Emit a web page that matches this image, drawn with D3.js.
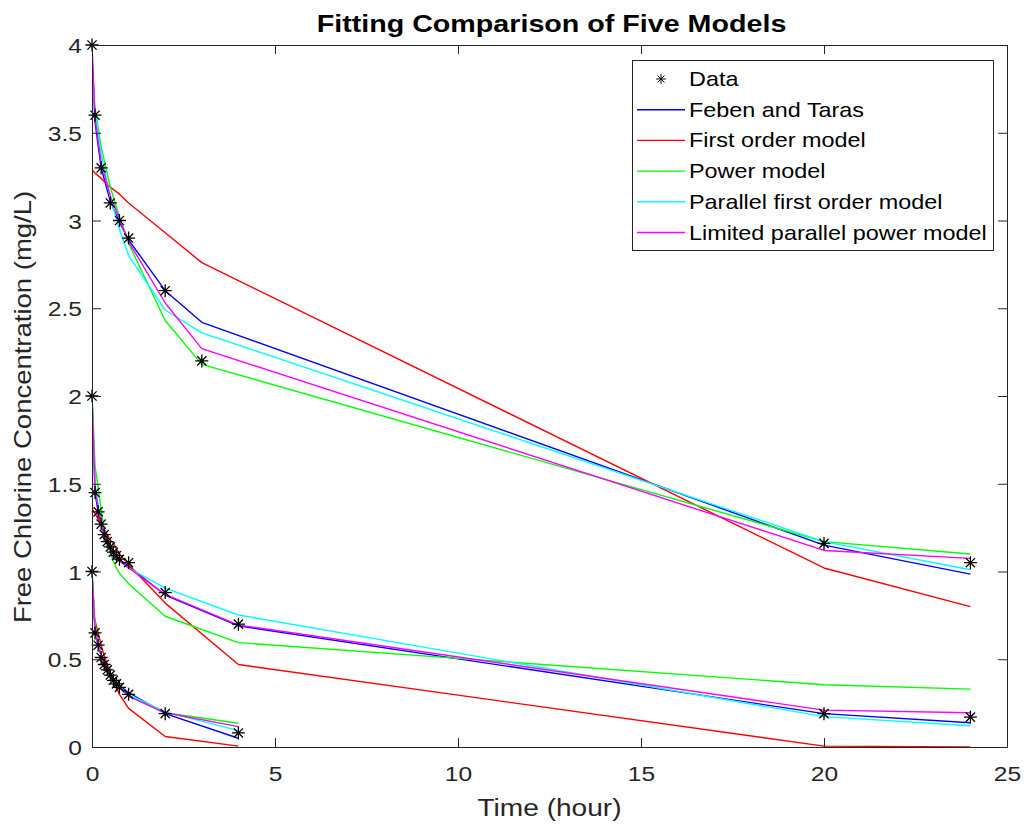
<!DOCTYPE html>
<html>
<head>
<meta charset="utf-8">
<script src="https://cdn.jsdelivr.net/npm/d3@7"></script>
<style>
  html, body { margin: 0; padding: 0; background: #fff; }
  svg { display: block; }
  text { font-family: Arial, "Liberation Sans", Helvetica, sans-serif; }
</style>
</head>
<body>
<svg id="chart" width="1024" height="826"></svg>
<script>
// ---- sampling times (hour) for each initial dose ----
const times4 = [0, 0.083, 0.25, 0.5, 0.75, 1, 2, 3, 20, 24];
const times2 = [0, 0.083, 0.167, 0.25, 0.333, 0.417, 0.5, 0.583, 0.667, 0.75, 1, 2, 4, 20, 24];
const times1 = [0, 0.083, 0.167, 0.25, 0.333, 0.417, 0.5, 0.583, 0.667, 0.75, 1, 2, 4];

// ---- measured free chlorine (mg/L) ----
const obs4 = [4.0, 3.6, 3.3, 3.1, 3.0, 2.9, 2.6, 2.2, 1.16, 1.05];
const obs2 = [2.0, 1.45, 1.34, 1.27, 1.21, 1.17, 1.14, 1.11, 1.09, 1.07, 1.05, 0.88, 0.70, 0.19, 0.17];
const obs1 = [1.0, 0.65, 0.58, 0.51, 0.47, 0.44, 0.41, 0.38, 0.36, 0.34, 0.30, 0.19, 0.08];

// ---- Feben and Taras ----
const feben4 = [3.95, 3.56, 3.30, 3.11, 2.99, 2.89, 2.60, 2.42, 1.15, 0.985];
const feben2 = [2.0, 1.45, 1.34, 1.27, 1.21, 1.17, 1.14, 1.11, 1.09, 1.07, 1.03, 0.866, 0.69, 0.19, 0.138];
const feben1 = [1.0, 0.66, 0.58, 0.52, 0.47, 0.44, 0.41, 0.39, 0.37, 0.35, 0.31, 0.19, 0.05];

// ---- First order model ----
const first4 = [3.29, 3.27, 3.24, 3.19, 3.15, 3.10, 2.93, 2.76, 1.02, 0.80];
const first2 = [1.36, 1.33, 1.30, 1.27, 1.24, 1.21, 1.18, 1.16, 1.13, 1.10, 1.04, 0.82, 0.47, 0.005, 0.001];
const first1 = [0.80, 0.72, 0.65, 0.58, 0.52, 0.47, 0.42, 0.38, 0.34, 0.30, 0.22, 0.06, 0.005];

// ---- Power model ----
const power4 = [3.80, 3.64, 3.42, 3.19, 3.02, 2.87, 2.43, 2.18, 1.17, 1.10];
const power2 = [2.0, 1.60, 1.48, 1.35, 1.24, 1.17, 1.11, 1.06, 1.02, 0.99, 0.93, 0.745, 0.595, 0.355, 0.33];
const power1 = [1.0, 0.70, 0.60, 0.53, 0.48, 0.44, 0.41, 0.38, 0.36, 0.34, 0.29, 0.195, 0.135];

// ---- Parallel first order model ----
const parallel4 = [3.85, 3.62, 3.38, 3.13, 2.95, 2.80, 2.49, 2.36, 1.17, 1.01];
const parallel2 = [1.95, 1.50, 1.38, 1.30, 1.23, 1.18, 1.14, 1.11, 1.08, 1.06, 1.02, 0.905, 0.752, 0.173, 0.121];
const parallel1 = [0.95, 0.68, 0.59, 0.52, 0.47, 0.44, 0.41, 0.38, 0.36, 0.34, 0.30, 0.20, 0.093];

// ---- Limited parallel power model ----
const limited4 = [4.0, 3.58, 3.33, 3.14, 3.01, 2.88, 2.53, 2.27, 1.12, 1.075];
const limited2 = [2.0, 1.47, 1.36, 1.28, 1.22, 1.17, 1.13, 1.10, 1.08, 1.06, 1.02, 0.87, 0.695, 0.21, 0.195];
const limited1 = [1.0, 0.66, 0.58, 0.52, 0.47, 0.44, 0.41, 0.38, 0.36, 0.34, 0.29, 0.195, 0.116];

// ---- axis ticks and labels ----
const xTicks = [0, 5, 10, 15, 20, 25];
const yTicks = [0, 0.5, 1, 1.5, 2, 2.5, 3, 3.5, 4];
const titleText = "Fitting Comparison of Five Models";
const xLabelText = "Time (hour)";
const yLabelText = "Free Chlorine Concentration (mg/L)";
const legendLabels = ["Data", "Feben and Taras", "First order model", "Power model",
                      "Parallel first order model", "Limited parallel power model"];

// ---- model definitions ----
const models = [
  { name: legendLabels[1], color: "#0000ff", runs: [feben4, feben2, feben1] },
  { name: legendLabels[2], color: "#ff0000", runs: [first4, first2, first1] },
  { name: legendLabels[3], color: "#00ff00", runs: [power4, power2, power1] },
  { name: legendLabels[4], color: "#00ffff", runs: [parallel4, parallel2, parallel1] },
  { name: legendLabels[5], color: "#ff00ff", runs: [limited4, limited2, limited1] }
];
const runTimes = [times4, times2, times1];
const observed = [obs4, obs2, obs1];

// ---- layout ----
const plot = { left: 92, right: 1007, top: 45, bottom: 747 };
const axisColor = "#262626";
const stretch = 1.17;   // horizontal widening of the glyphs
const tickLen = 9;

const svg = d3.select("#chart");

const x = d3.scaleLinear().domain([0, 25]).range([plot.left, plot.right]);
const y = d3.scaleLinear().domain([0, 4]).range([plot.bottom, plot.top]);

// white plot background
svg.append("rect")
  .attr("x", plot.left).attr("y", plot.top)
  .attr("width", plot.right - plot.left).attr("height", plot.bottom - plot.top)
  .attr("fill", "#fff");

// clip for series
svg.append("clipPath").attr("id", "plotClip")
  .append("rect")
  .attr("x", plot.left).attr("y", plot.top - 2)
  .attr("width", plot.right - plot.left).attr("height", plot.bottom - plot.top + 4);

const line = d3.line().x(d => x(d[0])).y(d => y(d[1]));

const seriesG = svg.append("g").attr("clip-path", "url(#plotClip)");

models.forEach(m => {
  m.runs.forEach((vals, i) => {
    const pts = runTimes[i].map((t, k) => [t, vals[k]]);
    seriesG.append("path")
      .attr("d", line(pts))
      .attr("fill", "none")
      .attr("stroke", m.color)
      .attr("stroke-width", 1.4)
      .attr("stroke-linejoin", "round");
  });
});

// asterisk marker
const starR = 6.5, starD = 4.6;
const starPath = `M0,${-starR}L0,${starR}M${-starR},0L${starR},0` +
  `M${-starD},${-starD}L${starD},${starD}M${-starD},${starD}L${starD},${-starD}`;

const dataPts = [];
observed.forEach((vals, i) => runTimes[i].forEach((t, k) => dataPts.push([t, vals[k]])));

svg.append("g").selectAll("path").data(dataPts).join("path")
  .attr("d", starPath)
  .attr("transform", d => `translate(${x(d[0])},${y(d[1])})`)
  .attr("fill", "none")
  .attr("stroke", "#000")
  .attr("stroke-width", 1.3);

// ---- axes (ticks point inward, box on all sides) ----
function styleAxis(g) {
  g.select(".domain").attr("stroke", axisColor).attr("stroke-width", 1);
  g.selectAll(".tick line").attr("stroke", axisColor).attr("stroke-width", 1);
  g.selectAll(".tick text").attr("fill", axisColor);
}

const xAxis = svg.append("g")
  .attr("transform", `translate(0,${plot.bottom})`)
  .call(d3.axisBottom(x).tickValues(xTicks).tickSize(-tickLen).tickSizeOuter(0).tickPadding(19)
    .tickFormat(d3.format("d")))
  .call(styleAxis);
xAxis.selectAll(".tick text")
  .attr("font-size", 21)
  .attr("transform", `scale(${stretch},1)`);

svg.append("g")
  .attr("transform", `translate(0,${plot.top})`)
  .call(d3.axisTop(x).tickValues(xTicks).tickSize(-tickLen).tickSizeOuter(0).tickFormat(""))
  .call(styleAxis);

const yAxis = svg.append("g")
  .attr("transform", `translate(${plot.left},0)`)
  .call(d3.axisLeft(y).tickValues(yTicks).tickSize(-tickLen).tickSizeOuter(0).tickPadding(10)
    .tickFormat(d => d3.format("")(d)))
  .call(styleAxis);
yAxis.selectAll(".tick text")
  .attr("font-size", 21)
  .attr("dy", "0.36em")
  .each(function () {
    const t = d3.select(this);
    const xPos = +t.attr("x");
    t.attr("x", 0).attr("transform", `translate(${xPos},0) scale(${stretch},1)`);
  });

svg.append("g")
  .attr("transform", `translate(${plot.right},0)`)
  .call(d3.axisRight(y).tickValues(yTicks).tickSize(-tickLen).tickSizeOuter(0).tickFormat(""))
  .call(styleAxis);

// ---- titles ----
svg.append("text")
  .attr("transform", `translate(${(plot.left + plot.right) / 2 + 2},32) scale(${stretch},1)`)
  .attr("text-anchor", "middle")
  .attr("font-size", 24.5)
  .attr("font-weight", "bold")
  .attr("fill", "#000")
  .text(titleText);

svg.append("text")
  .attr("transform", `translate(${(plot.left + plot.right) / 2},816) scale(${stretch},1)`)
  .attr("text-anchor", "middle")
  .attr("font-size", 24)
  .attr("fill", axisColor)
  .text(xLabelText);

svg.append("text")
  .attr("transform", `translate(31,407) rotate(-90) scale(${stretch},1)`)
  .attr("text-anchor", "middle")
  .attr("font-size", 23.5)
  .attr("fill", axisColor)
  .text(yLabelText);

// ---- legend ----
const legend = { x: 632, y: 60, w: 361, h: 190, rowY0: 79, rowStep: 30.7 };
const lg = svg.append("g");
lg.append("rect")
  .attr("x", legend.x + 0.5).attr("y", legend.y + 0.5)
  .attr("width", legend.w).attr("height", legend.h)
  .attr("fill", "#fff").attr("stroke", axisColor).attr("stroke-width", 1);

legendLabels.forEach((lab, i) => {
  const ry = legend.rowY0 + i * legend.rowStep;
  if (i === 0) {
    lg.append("path").attr("d", starPath)
      .attr("transform", `translate(661,${ry}) scale(0.75)`)
      .attr("fill", "none").attr("stroke", "#000").attr("stroke-width", 1.3);
  } else {
    lg.append("line")
      .attr("x1", 637).attr("x2", 685)
      .attr("y1", ry).attr("y2", ry)
      .attr("stroke", models[i - 1].color).attr("stroke-width", 1.4);
  }
  lg.append("text")
    .attr("transform", `translate(689,${ry + 7}) scale(${stretch},1)`)
    .attr("font-size", 20)
    .attr("fill", "#000")
    .text(lab);
});
</script>
</body>
</html>
